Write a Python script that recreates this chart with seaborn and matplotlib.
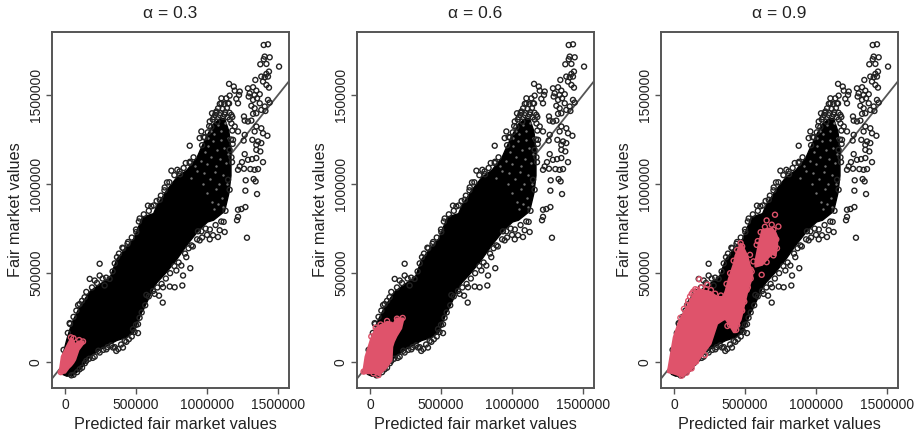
import numpy as np
import pandas as pd
import matplotlib
matplotlib.use("Agg")
import matplotlib.pyplot as plt
import seaborn as sns

# all values in thousands
# solid part of the cloud: x, lower edge, upper edge
core_x = [-37, -20, 9, 45, 103, 174, 250, 314, 361, 420, 479, 537, 549, 620, 643, 713, 784, 854, 925, 948, 1000, 1042, 1089, 1120, 1150, 1165]
core_lo = [-49, -65, -75, -73, -39, 36, 75, 105, 125, 140, 167, 285, 299, 420, 449, 510, 581, 660, 731, 750, 790, 800, 830, 850, 950, 1050]
core_hi = [-49, 40, 130, 224, 318, 402, 445, 478, 581, 640, 694, 807, 820, 837, 880, 968, 1040, 1080, 1150, 1192, 1280, 1340, 1370, 1370, 1300, 1200]

# single points around the cloud
out_x = [1399, 1429, 1406, 1441, 1399, 1375, 1418, 1507, 1436, 1418, 1382, 1406, 1340, 1429, 1394, 1418, 1436,
         1155, 1188, 1230, 1195, 1288, 1324, 1347, 1300, 1335, 1293, 1371, 1159, 1101, 1136, 1225, 1206, 1352,
         1324, 1218, 1429, 1441, 1371, 1312, 1335, 1406, 1382, 1347, 1324, 1411, 1260, 1288, 1312, 1265, 1347,
         1382, 1335, 1394, 1425, 1265, 1258, 1319, 1359, 1347, 1382, 1375, 1347, 1265, 1288, 1317, 1347, 1246,
         1394, 1230, 1218, 1260, 1305, 1335, 1359, 1272, 1328, 1342, 1270, 1352, 1270, 1242, 1218,
         878, 960, 948, 976, 1019, 1035, 1066, 1101, 850, 878, 749, 791, 807, 718, 702, 667, 584, 608,
         1148, 1171, 1195, 1218, 1183, 1159, 1176, 1148, 1159,
         1281, 1218, 1211, 1117, 1089, 1042, 1019, 1077, 1124, 948, 960, 890, 854, 882, 819, 831, 784, 826,
         772, 690, 737, 662, 631, 573, 688, 514, 479, 514, 432, 408, 361, 338, 291, 244, 209, 150, 103, 45,
         244, 174, 209, 244, 279, 314, 103, 138, 92, 33, 444, 404, 366, 502, 526, 936]
out_y = [1780, 1784, 1715, 1711, 1700, 1672, 1674, 1659, 1631, 1618, 1603, 1599, 1584, 1603, 1575, 1556, 1541,
         1562, 1547, 1519, 1524, 1537, 1543, 1524, 1509, 1500, 1491, 1504, 1496, 1481, 1481, 1500, 1478, 1481,
         1472, 1453, 1472, 1457, 1453, 1439, 1425, 1435, 1416, 1397, 1394, 1410, 1379, 1351, 1356, 1356, 1323,
         1313, 1295, 1285, 1271, 1276, 1244, 1248, 1239, 1220, 1230, 1183, 1192, 1168, 1136, 1140, 1146, 1123,
         1123, 1099, 1080, 1086, 1084, 1080, 1084, 1021, 1028, 1015, 963, 944, 871, 860, 856,
         1215, 1295, 1258, 1263, 1351, 1397, 1407, 1453, 1118, 1118, 1075, 1080, 1071, 1009, 981, 912, 879, 875,
         1453, 1388, 1323, 1295, 1248, 1192, 1123, 1024, 968,
         699, 816, 797, 788, 741, 713, 690, 703, 731, 684, 735, 656, 590, 528, 543, 487, 515, 431,
         421, 421, 425, 374, 384, 378, 335, 164, 186, 214, 115, 83, 64, 83, 73, 55, 32, 8, -39, -73,
         553, 468, 459, 487, 431, 468, 327, 365, 321, 220, 675, 643, 590, 731, 807, 735]

# rings at the loose top of the cloud
top_x = [1048, 1072, 1112, 1145, 1178, 1062, 1095, 1128, 1158, 1078, 1110, 1140, 1090, 1122, 1155, 1030, 1058, 1092, 1124, 1005, 985,
         965, 1172, 1180, 1168, 1178, 1172, 1160, 1040, 1015]
top_y = [1375, 1350, 1377, 1374, 1376, 1400, 1398, 1403, 1400, 1425, 1422, 1427, 1450, 1448, 1452, 1320, 1388, 1386, 1390, 1290, 1262,
         1218, 1150, 1225, 1250, 1300, 1340, 1362, 1362, 1325]

# rings along the upper and lower rim of the solid part
rim_x = [-10, 20, 35, 60, 80, 120, 150, 190, 225, 265, 290, 335, 350, 380, 410, 440, 470, 500, 520, 555, 590, 625, 645,
         675, 700, 735, 770, 810, 835, 880, 905,
         1130, 1100, 1060, 1020, 990, 1000, 965, 930, 900, 870, 845, 800, 770, 740, 710, 680, 650, 620, 590, 565, 540,
         525, 500, 490, 470, 450, 420, 395, 375, 350, 325, 300, 270, 235, 195, 170, 140, 120, 85, 60]
rim_y = [70, 165, 215, 255, 290, 345, 395, 420, 445, 470, 475, 510, 555, 610, 640, 665, 700, 745, 790, 830, 850, 880, 905,
         935, 965, 1010, 1050, 1055, 1090, 1125, 1150,
         850, 790, 770, 745, 750, 715, 700, 690, 650, 640, 610, 560, 540, 500, 470, 440, 420, 400, 370, 320, 280,
         250, 210, 170, 145, 130, 120, 100, 75, 85, 95, 85, 70, 65, 25, 20, -5, -30, -55, -70]

# small gaps showing through the upper cloud
gap_x = [1005, 1025, 1050, 1075, 1100, 1125, 1145, 985, 1010, 1040, 1070, 1095, 1120, 1150, 960, 1000, 1030, 1060, 1090, 1130, 980, 1020, 1055, 1085, 1115,
         1000, 1035, 1065, 1105, 1050, 1080, 1110, 1140, 930, 970, 890, 915]
gap_y = [1260, 1300, 1280, 1330, 1300, 1340, 1260, 1180, 1215, 1240, 1190, 1245, 1205, 1170, 1130, 1110, 1150, 1100, 1140, 1120, 1060, 1030, 1065, 1000, 1050,
         950, 900, 975, 920, 860, 890, 870, 1000, 1075, 1000, 1035, 1100]

# pink subset for alpha = 0.3
a3_x = [-42, -26, -2, 21, 40, 55, 68, 92, 127]
a3_lo = [-55, -58, -55, -30, -15, 0, 17, 73, 110]
a3_hi = [-55, 36, 73, 110, 139, 125, 102, 120, 120]
a3_px = [127, 100, 60, 42, -30]
a3_py = [117, 125, 135, 140, -55]

# pink subset for alpha = 0.6
a6_x = [-52, -35, 7, 23, 35, 59, 70, 106, 117, 148, 153, 164, 183, 216, 230]
a6_lo = [-56, -58, -58, -56, -60, -69, -60, -32, -22, 15, 90, 118, 150, 193, 240]
a6_hi = [-56, 34, 142, 170, 193, 205, 211, 225, 230, 225, 222, 221, 249, 249, 249]
a6_px = [230, 190, 120, 75, 40, 58, 25, -45, 9]
a6_py = [249, 245, 232, 212, 195, -72, -62, -52, 145]

# pink subset for alpha = 0.9, two lobes
a9_x = [-47, -5, 31, 54, 94, 113, 160, 183, 254, 300, 340, 359, 382, 418, 429, 450, 465, 476, 512, 547]
a9_lo = [-52, -60, -70, -75, -52, -43, 8, 32, 107, 219, 240, 247, 219, 172, 172, 220, 240, 275, 397, 481]
a9_hi = [-52, 144, 229, 265, 322, 350, 406, 410, 397, 369, 369, 400, 470, 556, 600, 640, 669, 660, 600, 500]
a9b_x = [570, 594, 617, 664, 688, 711, 723]
a9b_lo = [540, 545, 550, 594, 610, 603, 650]
a9b_hi = [570, 669, 744, 753, 753, 730, 706]
a9_px = [711, 652, 688, 735, 582, 469, 617, 652, 559, 535, 547, 512, 437, 394, 376, 178, 235, 113, 94, 136, 164, 54, 89, 124, 155, 218,
         45, 70, 100, 125, 150, 195, 225, 260, 290, 330, 370, 395, 420, 445, 480, 540, 540, 520, 495, 480, 445,
         590, 610, 640, 700, 720, 725, 700, 640, 600]
a9_py = [828, 796, 772, 762, 659, 669, 491, 562, 566, 603, 509, 406, 182, 210, 204, 466, 435, 369, 322, 397, 406, -75, -58, -34, 4, 41,
         250, 300, 345, 385, 410, 420, 410, 405, 385, 375, 440, 500, 570, 630, 650, 520, 470, 420, 340, 290, 210,
         680, 730, 760, 745, 690, 640, 600, 590, 560]

titles = ["\u03b1 = 0.3", "\u03b1 = 0.6", "\u03b1 = 0.9"]
x_ticks = [0, 500000, 1000000, 1500000]
y_ticks = [0, 500000, 1000000, 1500000]

pink = "#DF536B"
grey = "#555555"
W, H = 915, 432

sns.set_theme(style="white")
plt.rcParams["font.family"] = ["Liberation Sans", "DejaVu Sans"]

fig = plt.figure(figsize=(W / 100, H / 100), dpi=100)
lefts = [52, 357, 661]
width = 237
xlabel_pos = [0.52, 0.5, 0.5]

cloud = pd.DataFrame({"x": np.array(out_x + top_x + rim_x) * 1000, "y": np.array(out_y + top_y + rim_y) * 1000})
gaps = pd.DataFrame({"x": np.array(gap_x) * 1000, "y": np.array(gap_y) * 1000})


def k(v):
    return np.array(v) * 1000


def rings(ax, x, y, color):
    sns.scatterplot(x=x, y=y, ax=ax, s=13, facecolors="none", edgecolor=color, linewidth=1.0, zorder=4)


pink_sets = [
    [(a3_x, a3_lo, a3_hi)],
    [(a6_x, a6_lo, a6_hi)],
    [(a9_x, a9_lo, a9_hi), (a9b_x, a9b_lo, a9b_hi)],
]
pink_points = [(a3_px, a3_py), (a6_px, a6_py), (a9_px, a9_py)]

for i in range(3):
    ax = fig.add_axes([lefts[i] / W, 1 - 388 / H, width / W, 356 / H])
    ax.axline((0, 0), slope=1, color=grey, lw=1.3, zorder=1)
    ax.fill_between(k(core_x), k(core_lo), k(core_hi), color="black", lw=1, zorder=2)
    sns.scatterplot(data=gaps, x="x", y="y", ax=ax, s=3, color="#777777", linewidth=0, zorder=3)
    rings(ax, cloud["x"], cloud["y"], "#222222")
    for xs, lo, hi in pink_sets[i]:
        ax.fill_between(k(xs), k(lo), k(hi), color=pink, lw=1.5, zorder=5)
    rings(ax, k(pink_points[i][0]), k(pink_points[i][1]), pink)

    ax.set_xlim(-91500, 1577000)
    ax.set_ylim(-144000, 1853000)
    ax.set_xticks(x_ticks)
    ax.set_yticks(y_ticks)
    ax.ticklabel_format(style="plain")
    ax.tick_params(axis="both", length=4.5, width=1, color=grey, labelcolor="#222222", labelsize=10, pad=3, bottom=True, left=True)
    ax.tick_params(axis="y", pad=2)
    plt.setp(ax.get_yticklabels(), rotation=90, va="center")
    for s in ax.spines.values():
        s.set_color(grey)
        s.set_linewidth(1.4)
    ax.set_xlabel("Predicted fair market values", fontsize=11.7, color="#222222", labelpad=3, x=xlabel_pos[i])
    ax.set_ylabel("Fair market values", fontsize=11.7, color="#222222", labelpad=4)
    ax.set_title(titles[i], fontsize=12.5, color="#222222", pad=10)

fig.savefig("out.png", dpi=100, facecolor="white")
